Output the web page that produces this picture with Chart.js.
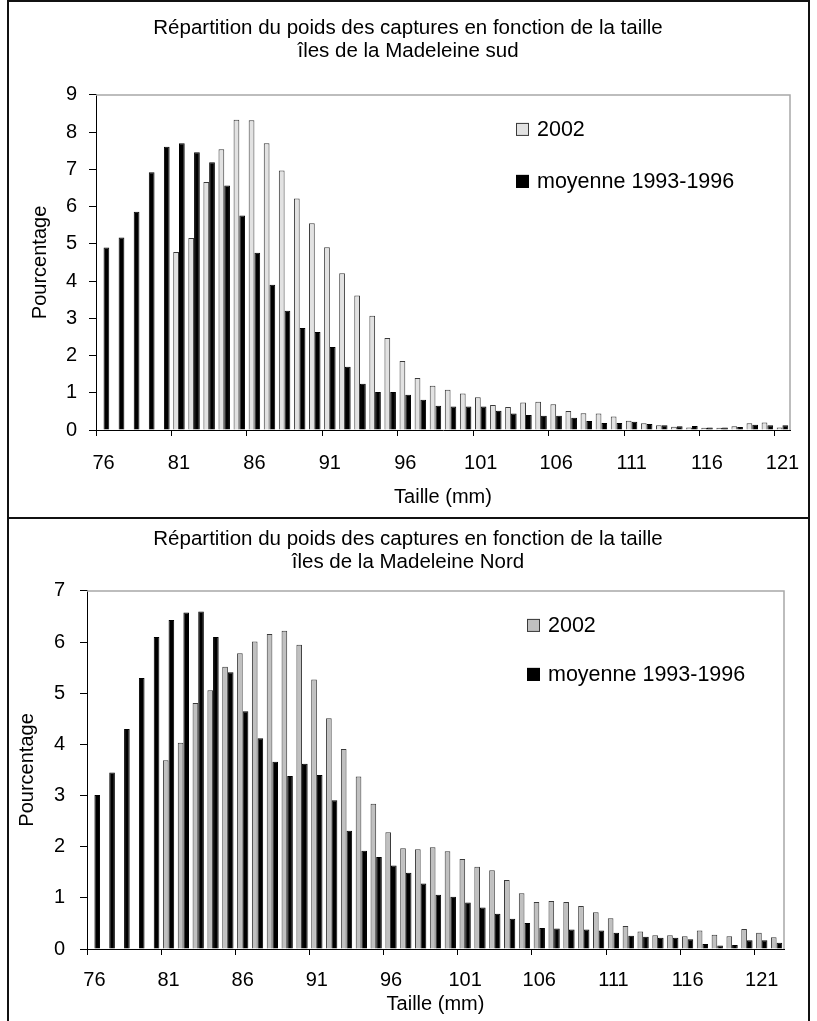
<!DOCTYPE html>
<html lang="fr">
<head>
<meta charset="utf-8">
<title>Répartition du poids des captures</title>
<script src="https://cdn.jsdelivr.net/npm/chart.js@4.4.1/dist/chart.umd.min.js"></script>
<style>
  body { margin: 0; background: #fff; }
  #page { position: relative; width: 817px; height: 1021px; overflow: hidden; }
  canvas { position: absolute; left: 0; }
  .cadre { position: absolute; box-sizing: border-box; border: 2px solid #111; pointer-events: none; }
</style>
</head>
<body>
<div id="page">
  <canvas id="grapheSud" width="817" height="518" style="top:0"></canvas>
  <canvas id="grapheNord" width="817" height="503" style="top:518px"></canvas>
  <div class="cadre" style="left:7px;top:0;width:803px;height:519px;"></div>
  <div class="cadre" style="left:7px;top:517px;width:803px;height:510px;border-bottom:none;"></div>
</div>
<script>
// tailles (mm)
const taillesSud = [76, 77, 78, 79, 80, 81, 82, 83, 84, 85, 86, 87, 88, 89, 90, 91, 92, 93, 94, 95, 96, 97, 98,
  99, 100, 101, 102, 103, 104, 105, 106, 107, 108, 109, 110, 111, 112, 113, 114, 115, 116, 117, 118, 119, 120, 121];
const taillesNord = [76, 77, 78, 79, 80, 81, 82, 83, 84, 85, 86, 87, 88, 89, 90, 91, 92, 93, 94, 95, 96, 97, 98,
  99, 100, 101, 102, 103, 104, 105, 106, 107, 108, 109, 110, 111, 112, 113, 114, 115, 116, 117, 118, 119, 120, 121, 122];

// pourcentages - îles de la Madeleine sud
const sud2002 = [null, null, null, null, null, 4.78, 5.16, 6.66, 7.54, 8.33, 8.32, 7.70, 6.97, 6.22, 5.55, 4.91,
  4.21, 3.61, 3.07, 2.47, 1.85, 1.40, 1.19, 1.08, 0.98, 0.88, 0.67, 0.62, 0.74, 0.76, 0.69, 0.51, 0.45, 0.44,
  0.36, 0.25, 0.18, 0.13, 0.09, 0.07, 0.06, 0.06, 0.10, 0.18, 0.20, 0.07];
const sudMoyenne = [4.90, 5.17, 5.86, 6.92, 7.61, 7.70, 7.46, 7.19, 6.57, 5.76, 4.76, 3.90, 3.20, 2.74, 2.63, 2.23,
  1.70, 1.24, 1.02, 1.02, 0.95, 0.81, 0.65, 0.63, 0.63, 0.63, 0.52, 0.44, 0.40, 0.38, 0.38, 0.33, 0.24, 0.19,
  0.19, 0.22, 0.16, 0.13, 0.10, 0.11, 0.07, 0.07, 0.08, 0.14, 0.13, 0.13];

// pourcentages - îles de la Madeleine Nord
const nord2002 = [null, null, null, null, null, 3.69, 4.03, 4.81, 5.06, 5.52, 5.78, 6.01, 6.16, 6.22, 5.95, 5.27,
  4.51, 3.91, 3.37, 2.84, 2.28, 1.97, 1.95, 1.99, 1.91, 1.76, 1.61, 1.54, 1.35, 1.09, 0.92, 0.94, 0.92, 0.84,
  0.72, 0.60, 0.45, 0.34, 0.27, 0.27, 0.25, 0.36, 0.28, 0.25, 0.39, 0.32, 0.23];
const nordMoyenne = [3.01, 3.45, 4.30, 5.30, 6.10, 6.43, 6.58, 6.60, 6.10, 5.41, 4.65, 4.12, 3.66, 3.38, 3.62, 3.40,
  2.91, 2.31, 1.92, 1.80, 1.63, 1.49, 1.28, 1.06, 1.02, 0.91, 0.81, 0.69, 0.59, 0.51, 0.41, 0.40, 0.38, 0.38,
  0.36, 0.32, 0.26, 0.24, 0.22, 0.22, 0.19, 0.10, 0.07, 0.08, 0.17, 0.17, 0.12];

// étiquettes affichées sur l'axe des x
const etiquettesX = [76, 81, 86, 91, 96, 101, 106, 111, 116, 121];

const POLICE = 'Arial, "Liberation Sans", sans-serif';
Chart.defaults.font.family = POLICE;
Chart.defaults.font.size = 20;
Chart.defaults.color = '#000';

// bordure grise du haut et de droite de la zone de tracé
const cadreZone = {
  id: 'cadreZone',
  beforeDatasetsDraw(chart) {
    const { ctx, chartArea: a } = chart;
    ctx.save();
    ctx.strokeStyle = '#a8a8a8';
    ctx.lineWidth = 1.5;
    ctx.beginPath();
    ctx.moveTo(a.left, a.top);
    ctx.lineTo(a.right, a.top);
    ctx.lineTo(a.right, a.bottom);
    ctx.stroke();
    ctx.restore();
  }
};

// légende dans la zone de tracé, une entrée sous l'autre
const legendeInterne = {
  id: 'legendeInterne',
  afterDraw(chart, args, opts) {
    const { ctx, chartArea: a } = chart;
    ctx.save();
    ctx.font = '21.5px ' + POLICE;
    ctx.textBaseline = 'middle';
    chart.data.datasets.forEach((ds, i) => {
      const x = a.left + opts.x;
      const y = a.top + opts.y + i * opts.ecart;
      ctx.fillStyle = ds.backgroundColor;
      ctx.fillRect(x, y, 13, 13);
      ctx.strokeStyle = ds.borderColor;
      ctx.lineWidth = 1;
      ctx.strokeRect(x + 0.5, y + 0.5, 12, 12);
      ctx.fillStyle = '#000';
      ctx.fillText(ds.label, x + 21, y + 7);
    });
    ctx.restore();
  }
};

function graphe(id, r) {
  new Chart(document.getElementById(id), {
    type: 'bar',
    data: {
      labels: r.tailles,
      datasets: [
        { label: '2002', data: r.serie2002, backgroundColor: r.gris, borderColor: '#3a3a3a', borderWidth: 1 },
        { label: 'moyenne 1993-1996', data: r.moyenne, backgroundColor: '#000', borderColor: '#000', borderWidth: 1 }
      ]
    },
    plugins: [cadreZone, legendeInterne],
    options: {
      responsive: false,
      animation: false,
      events: [],
      categoryPercentage: 0.76,
      barPercentage: 1.0,
      layout: { padding: { left: r.gauche, right: r.droite, top: 0, bottom: 0 } },
      plugins: {
        legend: { display: false },
        tooltip: { enabled: false },
        title: {
          display: true,
          text: r.titre,
          color: '#000',
          font: { size: 20.5, weight: 'normal', lineHeight: 1.12 },
          padding: { top: r.titreHaut, bottom: r.titreBas }
        },
        legendeInterne: r.legende
      },
      scales: {
        x: {
          offset: true,
          grid: {
            offset: true,
            drawOnChartArea: false,
            tickLength: 6,
            tickColor: c => etiquettesX.includes(c.chart.data.labels[c.index]) ? '#000' : 'rgba(0,0,0,0)'
          },
          border: { color: '#000', width: 1 },
          ticks: {
            autoSkip: false,
            maxRotation: 0,
            minRotation: 0,
            padding: r.xPad,
            callback(v) {
              const t = this.getLabelForValue(v);
              return etiquettesX.includes(Number(t)) ? t : '';
            }
          },
          title: { display: true, text: 'Taille (mm)', padding: { top: 0, bottom: r.xTitrePad } },
          afterFit: s => { s.height = r.xHauteur; }
        },
        y: {
          min: 0,
          max: r.max,
          grid: { drawOnChartArea: false, tickLength: 7, color: '#000' },
          border: { color: '#000', width: 1 },
          ticks: { stepSize: 1, padding: r.yPad },
          title: { display: true, text: 'Pourcentage', padding: { top: r.yTitrePad, bottom: 0 } },
          afterFit: s => { s.width = r.yLargeur; }
        }
      }
    }
  });
}

graphe('grapheSud', {
  tailles: taillesSud, serie2002: sud2002, moyenne: sudMoyenne, gris: '#e2e2e2', max: 9,
  titre: ['Répartition du poids des captures en fonction de la taille', 'îles de la Madeleine sud'],
  gauche: 26, droite: 27, titreHaut: 16.5, titreBas: 32.5,
  yLargeur: 70, yPad: 12, yTitrePad: 2,
  xHauteur: 88, xPad: 15, xTitrePad: 9,
  legende: { x: 420, y: 28, ecart: 52 }
});

graphe('grapheNord', {
  tailles: taillesNord, serie2002: nord2002, moyenne: nordMoyenne, gris: '#c0c0c0', max: 7,
  titre: ['Répartition du poids des captures en fonction de la taille', 'îles de la Madeleine Nord'],
  gauche: 32, droite: 33, titreHaut: 9.5, titreBas: 17.5,
  yLargeur: 55, yPad: 15, yTitrePad: -17,
  xHauteur: 72, xPad: 13, xTitrePad: 5,
  legende: { x: 440, y: 28, ecart: 49 }
});
</script>
</body>
</html>
